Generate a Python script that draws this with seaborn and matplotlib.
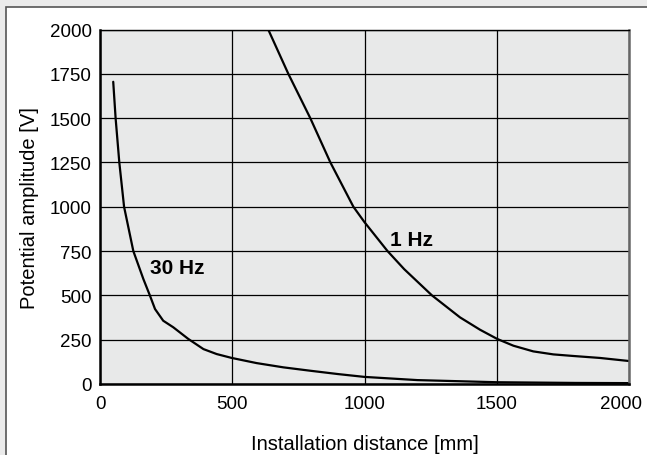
import matplotlib
matplotlib.use("Agg")
import matplotlib.pyplot as plt
import matplotlib.transforms as mtransforms
from matplotlib.patches import Rectangle
import seaborn as sns
import pandas as pd

# curves
dist_30hz = [50, 59, 73, 91, 126, 164, 189, 208, 239, 277, 334, 391, 441, 498, 592, 693, 794,
             900, 1000, 1200, 1500, 1800, 2000]
amp_30hz = [1705, 1500, 1250, 1000, 750, 592, 498, 423, 357, 320, 254, 197, 169, 147, 118, 94, 75,
            56, 40, 22, 10, 6, 5]
dist_1hz = [636, 712, 795, 871, 958, 1000, 1087, 1150, 1255, 1361, 1437, 1502, 1563, 1638,
            1714, 1790, 1890, 1998]
amp_1hz = [2000, 1750, 1500, 1250, 1000, 913, 750, 648, 500, 376, 306, 254, 216, 184,
           167, 158, 147, 130]

x_ticks = [0, 500, 1000, 1500, 2000]
y_ticks = [0, 250, 500, 750, 1000, 1250, 1500, 1750, 2000]

df = pd.concat([
    pd.DataFrame({"dist": dist_30hz, "amp": amp_30hz, "freq": "30 Hz"}),
    pd.DataFrame({"dist": dist_1hz, "amp": amp_1hz, "freq": "1 Hz"}),
])

sns.set_style("white")
plt.rcParams["font.family"] = ["Liberation Sans", "DejaVu Sans"]
plt.rcParams["text.color"] = "black"
plt.rcParams["axes.labelcolor"] = "black"

fig = plt.figure(figsize=(6.47, 4.56), dpi=100)
fig.patch.set_facecolor("#ebebeb")
# white panel with a border on left and top
fig.patches.append(Rectangle((5.5 / 647, -0.1), 1.2, 1.1 - 7.5 / 456,
                             transform=fig.transFigure, facecolor="white",
                             edgecolor="#555555", linewidth=1.2, zorder=-10))

ax = fig.add_axes([100 / 647, 1 - 385 / 456, 529 / 647, 354.5 / 456])
ax.set_facecolor("#e8e9e9")

sns.lineplot(data=df, x="dist", y="amp", units="freq", estimator=None,
             color="black", linewidth=1.6, sort=False, ax=ax)

ax.set_xlim(0, 2000)
ax.set_ylim(0, 2000)
ax.set_xticks(x_ticks)
ax.set_yticks(y_ticks)
ax.grid(True, color="black", linewidth=0.9)
ax.set_axisbelow(True)
ax.tick_params(axis="both", length=0, labelsize=13.5, colors="black")
ax.tick_params(axis="x", pad=8)
ax.tick_params(axis="y", pad=6)

# last x label is pulled in so it stays inside the picture
last = ax.get_xticklabels()[-1]
last.set_horizontalalignment("right")
last.set_transform(last.get_transform() +
                   mtransforms.ScaledTranslation(13 / 100, 0, fig.dpi_scale_trans))

for side in ["left", "bottom"]:
    ax.spines[side].set_color("black")
    ax.spines[side].set_linewidth(1.8)
ax.spines["top"].set_color("black")
ax.spines["top"].set_linewidth(1.0)
ax.spines["right"].set_color("#666666")
ax.spines["right"].set_linewidth(1.8)

ax.set_xlabel("Installation distance [mm]", fontsize=14.5, labelpad=16)
ax.set_ylabel("Potential amplitude [V]", fontsize=14.5, labelpad=8)

ax.text(189, 660, "30 Hz", fontsize=15, fontweight="bold", va="center", ha="left")
ax.text(1096, 818, "1 Hz", fontsize=15, fontweight="bold", va="center", ha="left")

fig.savefig("out.png", dpi=100, facecolor=fig.get_facecolor())
